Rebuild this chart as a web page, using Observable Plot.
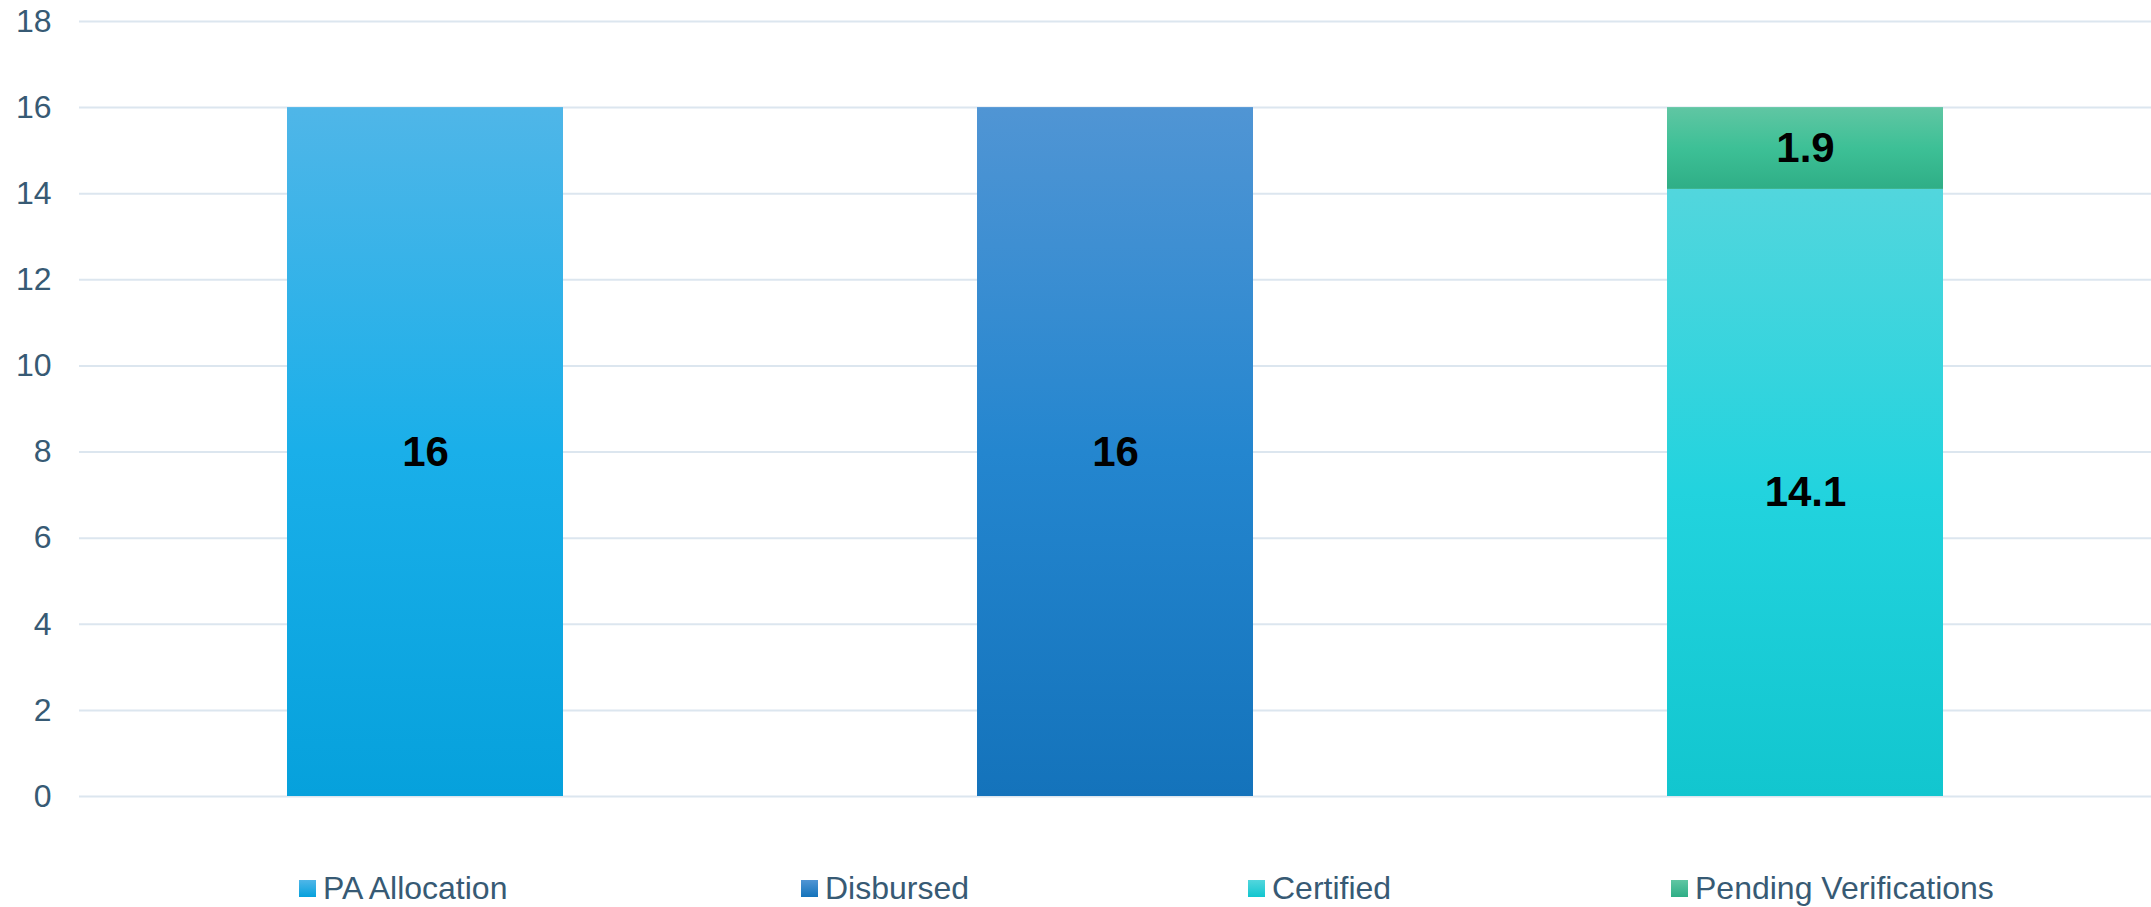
<!DOCTYPE html>
<html>
<head>
<meta charset="utf-8">
<script src="https://cdn.jsdelivr.net/npm/d3@7"></script>
<script src="https://cdn.jsdelivr.net/npm/@observablehq/plot@0.6"></script>
<style>
  html, body { margin: 0; padding: 0; background: #ffffff; }
  body { width: 2151px; height: 907px; overflow: hidden; font-family: Arial, "Liberation Sans", sans-serif; }
  #legend { position: relative; width: 2151px; height: 67px; }
  .item { position: absolute; top: 32px; height: 32px; display: flex; align-items: center; font-size: 32px; line-height: 32px; color: #375a74; white-space: nowrap; }
  .sw { width: 17px; height: 17px; margin-right: 7px; }
</style>
</head>
<body>
<div id="chart"></div>
<div id="legend"></div>
<script>
// ---- data ----
const groups = ["Allocation", "Disbursement", "Verification"];
const series = ["PA Allocation", "Disbursed", "Certified", "Pending Verifications"];
const seriesGroup = ["Allocation", "Disbursement", "Verification", "Verification"];
const values = [16, 16, 14.1, 1.9];
const labels = ["16", "16", "14.1", "1.9"];
const yTicks = [0, 2, 4, 6, 8, 10, 12, 14, 16, 18];

// ---- styles ----
const gradients = [
  ["#4fb6e8", "#1aafe9", "#06a1dc"],
  ["#5095d4", "#2486cf", "#1473bb"],
  ["#52d6dd", "#22d3de", "#12c6cf"],
  ["#60c6a3", "#3dc096", "#2fae86"]
];
const legendLeft = [299, 801, 1248, 1671];
const textColor = "#375a74";

const rows = series.map((s, i) => ({series: s, group: seriesGroup[i], value: values[i], label: labels[i]}));

const NS = "http://www.w3.org/2000/svg";
function defsMark() {
  const defs = document.createElementNS(NS, "defs");
  gradients.forEach((stops, i) => {
    const g = document.createElementNS(NS, "linearGradient");
    g.setAttribute("id", "grad" + i);
    g.setAttribute("x1", "0"); g.setAttribute("y1", "0");
    g.setAttribute("x2", "0"); g.setAttribute("y2", "1");
    stops.forEach((c, k) => {
      const st = document.createElementNS(NS, "stop");
      st.setAttribute("offset", (k / (stops.length - 1) * 100) + "%");
      st.setAttribute("stop-color", c);
      g.appendChild(st);
    });
    defs.appendChild(g);
  });
  return defs;
}

const chart = Plot.plot({
  width: 2151,
  height: 840,
  marginLeft: 79,
  marginRight: 0,
  marginTop: 21,
  marginBottom: 44,
  style: {fontFamily: "Arial, 'Liberation Sans', sans-serif", fontSize: "32px", color: textColor, background: "#ffffff"},
  x: {type: "band", domain: groups, paddingInner: 0.6, paddingOuter: 0.3, axis: null},
  y: {domain: [0, 18], axis: null},
  color: {domain: series, range: gradients.map((_, i) => `url(#grad${i})`)},
  marks: [
    defsMark,
    Plot.gridY(yTicks, {stroke: "#dce6ef", strokeWidth: 2, strokeOpacity: 1}),
    Plot.axisY(yTicks, {tickSize: 0, tickPadding: 28, fontSize: 32, fill: textColor, label: null}),
    Plot.barY(rows, Plot.stackY({x: "group", y: "value", fill: "series"})),
    Plot.text(rows, Plot.stackY({x: "group", y: "value", text: "label", fill: "#000000", fontWeight: "bold", fontSize: 42}))
  ]
});
document.getElementById("chart").appendChild(chart);

const legend = document.getElementById("legend");
series.forEach((s, i) => {
  const item = document.createElement("div");
  item.className = "item";
  item.style.left = legendLeft[i] + "px";
  const sw = document.createElement("div");
  sw.className = "sw";
  sw.style.background = `linear-gradient(to bottom, ${gradients[i][0]}, ${gradients[i][2]})`;
  const t = document.createElement("span");
  t.textContent = s;
  item.appendChild(sw);
  item.appendChild(t);
  legend.appendChild(item);
});
</script>
</body>
</html>
